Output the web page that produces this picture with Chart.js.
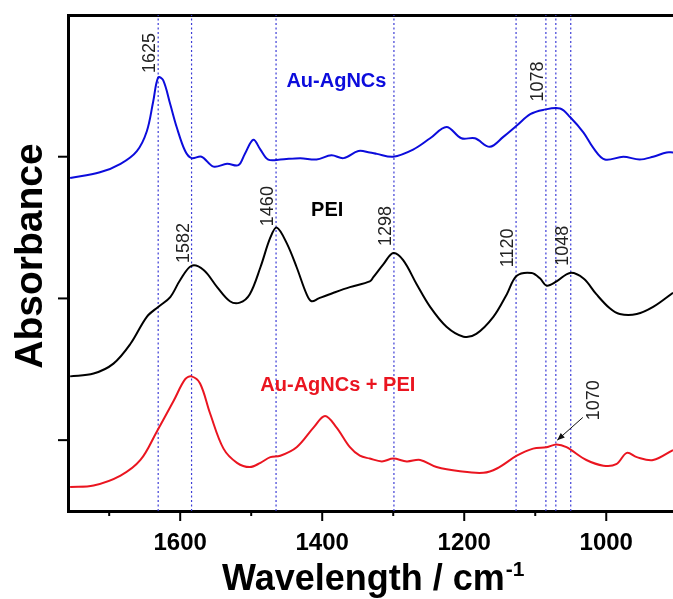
<!DOCTYPE html>
<html>
<head>
<meta charset="utf-8">
<script src="https://cdn.jsdelivr.net/npm/chart.js@4"></script>
<style>
  body { margin: 0; background: #fff; }
  canvas { display: block; }
</style>
</head>
<body>
<canvas id="myChart" width="673" height="599"></canvas>
<script>
// spectra (wavenumber / cm-1, absorbance with offsets)
var blueX = [1755,1713,1684,1661,1647,1638,1631,1624,1614,1605,1593,1584,1570,1553,1534,1518,1509,1497,1487,1476,1459,1431,1408,1387,1370,1349,1333,1323,1300,1272,1248,1225,1204,1185,1164,1145,1126,1107,1089,1065,1051,1032,1018,1002,976,953,934,915,906]
var blueY = [2.85,2.89,2.95,3.04,3.18,3.39,3.56,3.54,3.37,3.21,3.04,2.99,3.00,2.93,2.95,2.94,3.02,3.12,3.05,2.98,2.98,2.99,2.98,3.01,2.99,3.04,3.03,3.02,3.00,3.05,3.13,3.21,3.13,3.13,3.07,3.14,3.22,3.30,3.33,3.34,3.28,3.17,3.06,2.98,3.00,2.98,3.00,3.03,3.03]

var blackX = [1755,1722,1694,1670,1647,1631,1614,1600,1584,1567,1548,1530,1516,1502,1487,1473,1464,1450,1436,1422,1415,1405,1384,1361,1333,1328,1314,1300,1286,1267,1248,1225,1201,1183,1159,1140,1126,1105,1093,1084,1070,1051,1032,1014,995,981,957,934,906]
var blackY = [1.45,1.47,1.54,1.68,1.87,1.94,2.01,2.13,2.23,2.20,2.08,1.98,1.97,2.03,2.22,2.43,2.50,2.39,2.22,2.03,1.98,2.00,2.04,2.08,2.12,2.15,2.24,2.32,2.27,2.10,1.94,1.80,1.73,1.75,1.87,2.03,2.16,2.18,2.14,2.09,2.12,2.18,2.14,2.03,1.93,1.89,1.89,1.94,2.04]

var redX = [1755,1722,1684,1656,1633,1609,1593,1584,1572,1558,1539,1520,1502,1487,1473,1459,1436,1412,1396,1380,1361,1347,1333,1316,1300,1281,1262,1239,1206,1173,1154,1126,1103,1084,1070,1056,1028,1004,986,971,957,934,906]
var redY = [0.67,0.68,0.75,0.86,1.06,1.28,1.43,1.45,1.40,1.19,0.94,0.84,0.81,0.84,0.88,0.89,0.95,1.09,1.17,1.09,0.95,0.89,0.87,0.85,0.87,0.85,0.86,0.81,0.78,0.77,0.80,0.89,0.94,0.95,0.97,0.95,0.86,0.82,0.83,0.91,0.88,0.86,0.93]

// dotted marker lines and their labels
var markX = [1631,1584,1465,1299,1127,1085,1071,1050]
var peakText = ['1625','1582','1460','1298','1120','1078','1048']
var peakX = [1631,1584,1465,1299,1127,1085,1050]
var peakY = [3.59,2.25,2.51,2.37,2.22,3.39,2.23]

var xMajor = [1600,1400,1200,1000]
var xMinor = [1700,1500,1300,1100]
var yTicks = [1,2,3]

var BLUE = '#0c0cdc', RED = '#ea1520', FONT = '"Liberation Sans", Arial, sans-serif'

function pts(xs, ys) {
  var out = []
  for (var i = 0; i < xs.length; i++) out.push({x: xs[i], y: ys[i]})
  return out
}

var datasets = [
  {data: pts(blueX, blueY), borderColor: BLUE, borderWidth: 2},
  {data: pts(blackX, blackY), borderColor: '#000', borderWidth: 2},
  {data: pts(redX, redY), borderColor: RED, borderWidth: 2}
]
markX.forEach(function(v){
  datasets.push({data: [{x: v, y: 0.5}, {x: v, y: 4}], borderColor: '#3c3cd6',
    borderWidth: 1.2, borderDash: [2, 2.5], tension: 0})
})

var extras = {
  id: 'extras',
  afterDraw: function(chart) {
    var ctx = chart.ctx, xs = chart.scales.x, ys = chart.scales.y
    var a = chart.chartArea
    ctx.save()
    ctx.strokeStyle = '#000'
    ctx.lineWidth = 2
    // tick marks
    xMajor.forEach(function(v){ var p = xs.getPixelForValue(v); ctx.beginPath(); ctx.moveTo(p, a.bottom); ctx.lineTo(p, a.bottom + 10); ctx.stroke() })
    xMinor.forEach(function(v){ var p = xs.getPixelForValue(v); ctx.beginPath(); ctx.moveTo(p, a.bottom); ctx.lineTo(p, a.bottom + 5); ctx.stroke() })
    yTicks.forEach(function(v){ var p = ys.getPixelForValue(v); ctx.beginPath(); ctx.moveTo(a.left, p); ctx.lineTo(a.left - 10, p); ctx.stroke() })

    // peak labels, rotated
    ctx.fillStyle = '#222'
    ctx.font = '18px ' + FONT
    ctx.textAlign = 'left'
    ctx.textBaseline = 'alphabetic'
    function vlabel(t, px, py) {
      ctx.save(); ctx.translate(px, py); ctx.rotate(-Math.PI / 2); ctx.fillText(t, 0, 0); ctx.restore()
    }
    peakText.forEach(function(t, i){
      vlabel(t, xs.getPixelForValue(peakX[i]) - 3, ys.getPixelForValue(peakY[i]))
    })
    vlabel('1070', xs.getPixelForValue(1010), ys.getPixelForValue(1.14))

    // arrow to 1070
    var x1 = xs.getPixelForValue(1033), y1 = ys.getPixelForValue(1.16)
    var x2 = xs.getPixelForValue(1069), y2 = ys.getPixelForValue(1.0)
    ctx.strokeStyle = '#111'; ctx.lineWidth = 1
    ctx.beginPath(); ctx.moveTo(x1, y1); ctx.lineTo(x2, y2); ctx.stroke()
    var ang = Math.atan2(y2 - y1, x2 - x1)
    ctx.fillStyle = '#111'
    ctx.beginPath()
    ctx.moveTo(x2, y2)
    ctx.lineTo(x2 - 8 * Math.cos(ang - 0.4), y2 - 8 * Math.sin(ang - 0.4))
    ctx.lineTo(x2 - 8 * Math.cos(ang + 0.4), y2 - 8 * Math.sin(ang + 0.4))
    ctx.closePath(); ctx.fill()

    // series names
    ctx.font = 'bold 20px ' + FONT
    ctx.textAlign = 'center'
    ctx.fillStyle = BLUE
    ctx.fillText('Au-AgNCs', xs.getPixelForValue(1380), ys.getPixelForValue(3.49))
    ctx.fillStyle = '#000'
    ctx.fillText('PEI', xs.getPixelForValue(1393), ys.getPixelForValue(2.58))
    ctx.fillStyle = RED
    ctx.fillText('Au-AgNCs + PEI', xs.getPixelForValue(1378), ys.getPixelForValue(1.35))

    // axis titles
    ctx.fillStyle = '#000'
    ctx.font = 'bold 39px ' + FONT
    ctx.save(); ctx.translate(42, 256); ctx.rotate(-Math.PI / 2); ctx.fillText('Absorbance', 0, 0); ctx.restore()
    ctx.textAlign = 'left'
    ctx.font = 'bold 36px ' + FONT
    var main = 'Wavelength / cm'
    ctx.fillText(main, 222, 590)
    var w = ctx.measureText(main).width
    ctx.font = 'bold 21px ' + FONT
    ctx.fillText('-1', 222 + w + 1, 576)
    ctx.restore()
  }
}

var chart = new Chart(document.getElementById('myChart').getContext('2d'), {
  type: 'line',
  data: {datasets: datasets},
  plugins: [extras],
  options: {
    responsive: false,
    animation: false,
    events: [],
    layout: {padding: 0},
    elements: {point: {radius: 0}, line: {tension: 0.35}},
    plugins: {legend: {display: false}, tooltip: {enabled: false}},
    scales: {
      x: {
        type: 'linear', reverse: true, min: 906, max: 1758, position: 'bottom',
        afterBuildTicks: function(s){ s.ticks = xMajor.map(function(v){ return {value: v} }) },
        afterFit: function(s){ s.height = 88 },
        grid: {display: false},
        border: {display: true, width: 3, color: '#000'},
        ticks: {autoSkip: false, maxRotation: 0, padding: 10, color: '#000',
          callback: function(v){ return String(v) },
          font: {family: FONT, size: 24, weight: 'bold'}}
      },
      x2: {
        type: 'linear', reverse: true, min: 906, max: 1758, position: 'top',
        afterFit: function(s){ s.height = 15 },
        grid: {display: false},
        border: {display: true, width: 3, color: '#000'},
        ticks: {display: false}
      },
      y: {
        type: 'linear', min: 0.5, max: 4,
        afterFit: function(s){ s.width = 68 },
        grid: {display: false},
        border: {display: true, width: 3, color: '#000'},
        ticks: {display: false}
      }
    }
  }
})
</script>
</body>
</html>
